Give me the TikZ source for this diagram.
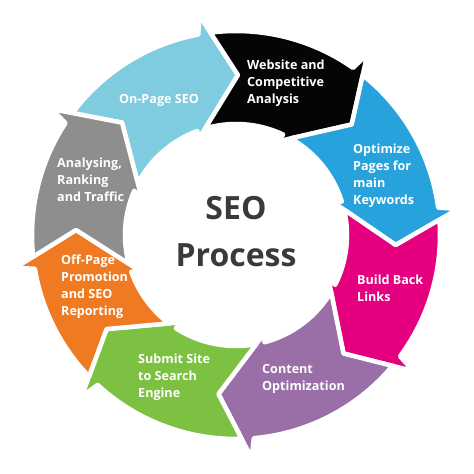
\documentclass[tikz,border=0pt]{standalone}
\usepackage{fontspec}
\setmainfont{Open Sans}
\definecolor{cLightBlue}{HTML}{7FCCE0}
\definecolor{cBlack}{HTML}{050505}
\definecolor{cBlue}{HTML}{27A2DC}
\definecolor{cPink}{HTML}{E4007F}
\definecolor{cPurple}{HTML}{9A6EA6}
\definecolor{cGreen}{HTML}{7CC142}
\definecolor{cOrange}{HTML}{F07A22}
\definecolor{cGray}{HTML}{8E8E8E}
\definecolor{cTitle}{HTML}{3A3A3A}
\tikzset{
  segshape/.style={draw=white, line width=4.5pt, line join=round},
  lbl/.style={text=white, font=\bfseries\fontsize{12.6}{17}\selectfont, align=left, inner sep=0pt},
  ttl/.style={text=cTitle, font=\bfseries\fontsize{32}{40}\selectfont, inner sep=0pt, anchor=base}
}
% #1 colour, #2 tail angle (previous tip), #3 tip angle
\newcommand\seoseg[3]{%
  \path[segshape, fill=#1]
    ({#2+7.90}:204pt) arc[start angle={#2+7.90}, end angle={#3+11.31}, radius=204pt]
    -- ({#3+10.30}:223.6pt) -- ({#3}:160pt) -- ({#3+23.27}:101.2pt)
    -- ({#3+21.12}:111pt) arc[start angle={#3+21.12}, end angle={#2+16.80}, radius=111pt]
    -- ({#2}:160pt) -- cycle;}
\begin{document}
\begin{tikzpicture}[x=1pt,y=1pt]
\useasboundingbox (0,0) rectangle (474,474);
\begin{scope}[shift={(236,239)}]
  \seoseg{cLightBlue}{135.4}{89.3}
  \seoseg{cBlack}{89.3}{43.7}
  \seoseg{cBlue}{43.7}{-3.6}
  \seoseg{cPink}{-3.6}{-47.8}
  \seoseg{cPurple}{-47.8}{-96.3}
  \seoseg{cGreen}{-96.3}{-144}
  \seoseg{cOrange}{-144}{-181.8}
  \seoseg{cGray}{-181.8}{-224.6}
\end{scope}
\node[lbl] (onpage) at (159,374) {On-Page SEO};
\node[lbl, anchor=west] (website) at (247,390.5) {Website and\\Competitive\\Analysis};
\node[lbl, anchor=west] (optimize) at (353,298.5) {Optimize\\Pages for\\main\\Keywords};
\node[lbl, anchor=west] (build) at (357,186) {Build Back\\Links};
\node[lbl, anchor=west] (content) at (262,95) {Content\\Optimization};
\node[lbl, anchor=west] (submit) at (138,97) {Submit Site\\to Search\\Engine};
\node[lbl, anchor=west] (offpage) at (61,187.5) {Off-Page\\Promotion\\and SEO\\Reporting};
\node[lbl, anchor=west] (analysing) at (57,294.5) {Analysing,\\Ranking\\and Traffic};
\node[ttl] (seo) at (236,254) {SEO};
\node[ttl] (process) at (236,207) {Process};
\end{tikzpicture}
\end{document}
